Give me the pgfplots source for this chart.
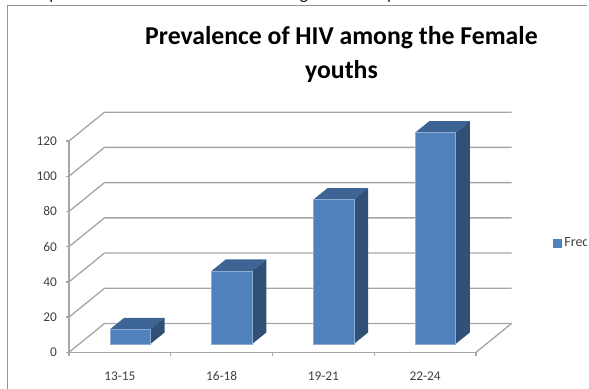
\documentclass[border=0pt]{standalone}
\usepackage{pgfplots}
\usepackage{fontspec}
\pgfplotsset{compat=1.18}
\setmainfont{Carlito}
\definecolor{barfront}{HTML}{4F81BD}
\definecolor{bartop}{HTML}{3C6494}
\definecolor{barside}{HTML}{305078}
\definecolor{wallgrey}{HTML}{A6A6A6}
\definecolor{inktext}{HTML}{404040}
% Oblique depth: d runs from the front of the floor (0) to the back wall (1).
\pgfplotsset{
  wall/.style={draw=wallgrey, line width=1pt, forget plot},
}
% One prism: #1 category centre, #2 value
\newcommand{\prism}[2]{%
  \addplot[fill=bartop, draw=none, forget plot] table[row sep=\\, x expr=#1+\thisrow{u}*0.199+0.349*\thisrow{d}, y expr=#2+16.35*\thisrow{d}]
    {u d\\ -1 0.29\\ 1 0.29\\ 1 0.69\\ -1 0.69\\} -- cycle;
  \addplot[fill=barside, draw=none, forget plot] table[row sep=\\, x expr=#1+0.199+0.349*\thisrow{d}, y expr=\thisrow{t}*#2+16.35*\thisrow{d}]
    {t d\\ 0 0.29\\ 1 0.29\\ 1 0.69\\ 0 0.69\\} -- cycle;
  \addplot[fill=barfront, draw=white!35!barfront, line width=0.4pt, forget plot] table[row sep=\\, x expr=#1+\thisrow{u}*0.199+0.349*\thisrow{d}, y expr=\thisrow{t}*#2+16.35*\thisrow{d}]
    {u t d\\ -1 0 0.29\\ 1 0 0.29\\ 1 1 0.29\\ -1 1 0.29\\} -- cycle;
}
\begin{document}
\begin{tikzpicture}[x=0.75pt,y=0.75pt]
% page frame: origin of the axis sits at (69,352.3) from the top left corner
\path[use as bounding box] (-69,-36.7) rectangle (520,352.3);
\draw[wallgrey!90!black, line width=0.9pt] (-61.5,-36.7) -- (-61.5,346.8) -- (518,346.8);
\begin{axis}[
  at={(0,0)}, anchor=origin,
  x=76.31pt, y=1.3208pt,
  xmin=0, xmax=4, ymin=0, ymax=120,
  clip=false,
  axis x line*=bottom, axis y line*=left,
  axis line style={draw=wallgrey, line width=1pt, -},
  tick style={draw=wallgrey, line width=1pt},
  tick align=outside,
  xtick={0.5,1.5,2.5,3.5},
  xticklabels={13-15,16-18,19-21,22-24},
  minor xtick={0,1,2,3,4},
  major x tick style={draw=none},
  minor tick length=3pt,
  major tick length=2pt,
  ytick={0,20,...,120},
  every tick label/.append style={font=\fontsize{10pt}{11pt}\selectfont, text=inktext},
  /pgf/number format/assume math mode=true,
  yticklabel style={xshift=-3.5pt},
  xticklabel style={anchor=base, yshift=-19pt},
  legend style={at={(1.189,0.518)}, anchor=west, draw=none, fill=none,
    font=\fontsize{10.5pt}{11pt}\selectfont, text=inktext, inner sep=0pt,
    /tikz/every even column/.append style={column sep=0pt}},
  title style={at={(0.6695,1)}, anchor=base, yshift=40.5pt, align=center,
    font=\fontsize{19.3pt}{25.5pt}\selectfont\bfseries},
  title={Prevalence of HIV among the Female\\ youths},
]
% walls and floor
\pgfplotsinvokeforeach{0,20,...,120}{
  \addplot[wall] table[row sep=\\, x expr=\thisrow{x}+0.349*\thisrow{d}, y expr=#1+16.35*\thisrow{d}] {x d\\ 0 0\\ 0 1\\ 4 1\\};
}
\addplot[wall] table[row sep=\\, x expr=\thisrow{x}+0.349*\thisrow{d}, y expr=16.35*\thisrow{d}] {x d\\ 4 0\\ 4 1\\};
% bars
\prism{0.5}{8.3}
\prism{1.5}{41.5}
\prism{2.5}{82}
\prism{3.5}{120}
\addlegendimage{legend image code/.code={\fill[barfront] (0pt,-3pt) rectangle (6pt,3pt);}}
\addlegendentry{Frequency}
\end{axis}
% white margin along the right edge of the page
\fill[white] (518,-36.7) rectangle (520,352.3);
% descenders of the line of text cut off above the frame
\foreach \px/\ch in {-15/p, 235/g, 321/y}
  \node[anchor=base, inner sep=0pt, font=\fontsize{13pt}{14pt}\selectfont] at (\px,352.5) {\ch};
\end{tikzpicture}
\end{document}
